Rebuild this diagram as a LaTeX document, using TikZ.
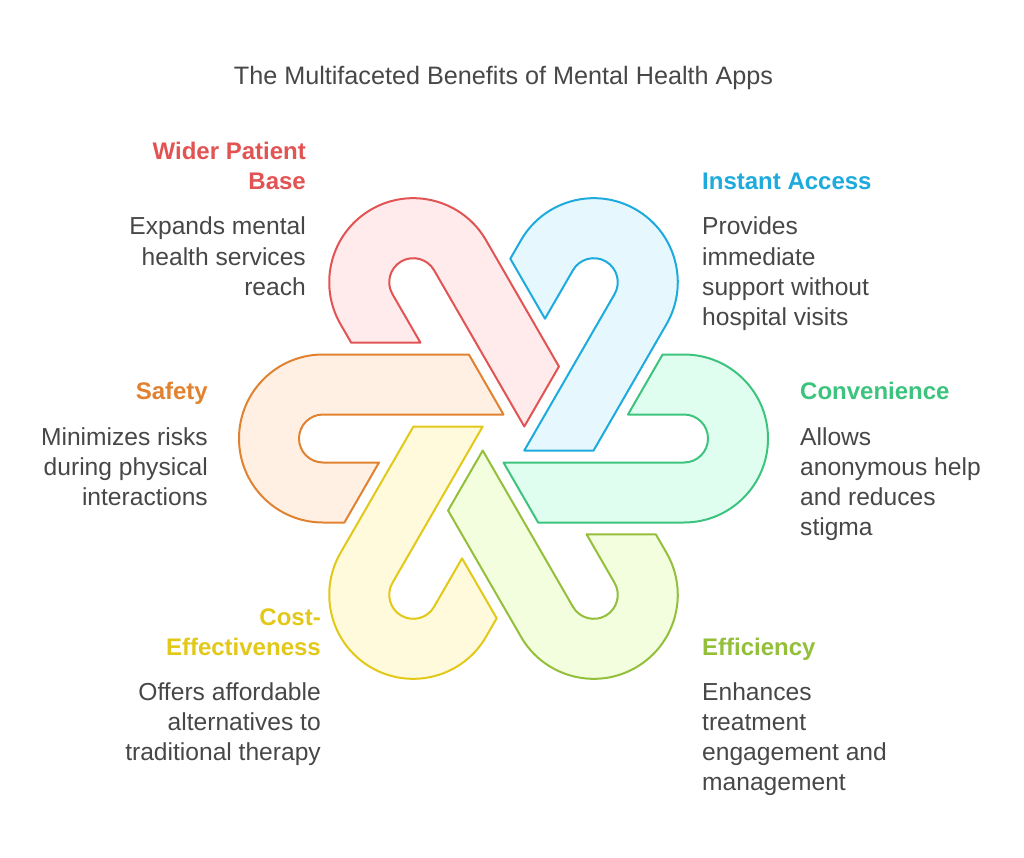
\documentclass[tikz,border=0pt]{standalone}
\usepackage{fontspec}
\setmainfont{Liberation Sans}
\usetikzlibrary{positioning}

\definecolor{safeLine}{HTML}{E0822F}
\definecolor{safeFill}{HTML}{FFF0E3}
\definecolor{wideLine}{HTML}{E25353}
\definecolor{wideFill}{HTML}{FFEBEB}
\definecolor{instLine}{HTML}{1DAADC}
\definecolor{instFill}{HTML}{E6F8FE}
\definecolor{convLine}{HTML}{3CC47E}
\definecolor{convFill}{HTML}{E0FEEF}
\definecolor{effiLine}{HTML}{93BF3B}
\definecolor{effiFill}{HTML}{F2FEDD}
\definecolor{costLine}{HTML}{E2C819}
\definecolor{costFill}{HTML}{FFFADB}
\definecolor{textGray}{HTML}{474747}

\begin{document}
\begin{tikzpicture}[
    x=1pt, y=1pt,
    font=\fontsize{24.6}{30}\selectfont,
    hook/.style={line width=2pt, line join=round},
    head/.style={
        font=\fontsize{24}{30}\selectfont\bfseries,
        inner sep=0pt,
    },
    body/.style={text=textGray, inner sep=0pt},
    title/.style={text=textGray, inner sep=0pt, font=\fontsize{25.2}{30}\selectfont},
]

\def\R{180.5}
\def\ro{84}
\def\ri{24}

\useasboundingbox (0,0) rectangle (1024,-858);
\coordinate (C) at (503.5,-438.5);

% hooks, one every 60 degrees
\foreach \k/\ln/\fl in {0/safeLine/safeFill, 1/wideLine/wideFill,
                        2/instLine/instFill, 3/convLine/convFill,
                        4/effiLine/effiFill, 5/costLine/costFill} {
    \begin{scope}[shift={(C)}, rotate=-60*\k, shift={(-\R,0)}]
        \draw[hook, draw=\ln, fill=\fl]
            (0,\ro) -- (\R-34.64,\ro) -- (\R,\ri) -- (0,\ri)
            arc[start angle=90, end angle=270, radius=\ri]
            -- (56,-\ri) -- (21.4,-\ro) -- (0,-\ro)
            arc[start angle=270, end angle=90, radius=\ro] -- cycle;
    \end{scope}
}

\node[title, anchor=base] (title) at (503.5,-84.3)
    {The Multifaceted Benefits of Mental Health Apps};

% left column (base = last line)
\node[head, text=wideLine, anchor=base east, align=right] (wideHead) at (306,-190) {Wider Patient\\Base};
\node[body, anchor=base east, align=right] (wideBody) at (306,-295) {Expands mental\\health services\\reach};

\node[head, text=safeLine, anchor=base east, align=right] (safeHead) at (208,-399) {Safety};
\node[body, anchor=base east, align=right] (safeBody) at (208,-505) {Minimizes risks\\during physical\\interactions};

\node[head, text=costLine, anchor=base east, align=right] (costHead) at (321,-655) {Cost-\\Effectiveness};
\node[body, anchor=base east, align=right] (costBody) at (321,-760) {Offers affordable\\alternatives to\\traditional therapy};

% right column
\node[head, text=instLine, anchor=base west, align=left] (instHead) at (702,-190) {Instant Access};
\node[body, anchor=base west, align=left] (instBody) at (702,-325) {Provides\\immediate\\support without\\hospital visits};

\node[head, text=convLine, anchor=base west, align=left] (convHead) at (800,-399) {Convenience};
\node[body, anchor=base west, align=left] (convBody) at (800,-535) {Allows\\anonymous help\\and reduces\\stigma};

\node[head, text=effiLine, anchor=base west, align=left] (effiHead) at (702,-655) {Efficiency};
\node[body, anchor=base west, align=left] (effiBody) at (702,-790) {Enhances\\treatment\\engagement and\\management};

\end{tikzpicture}
\end{document}
